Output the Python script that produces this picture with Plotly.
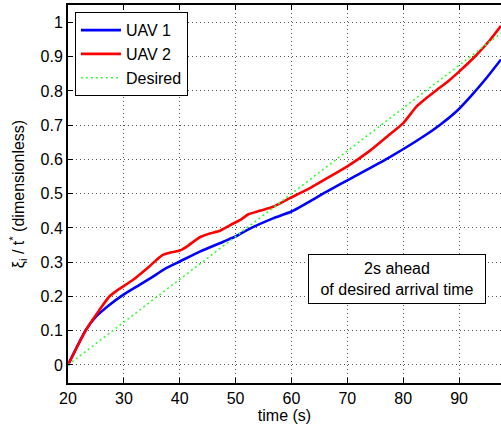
import plotly.graph_objects as go

# Normalised arrival progress of two UAVs against time
t_uav1 = [20, 23.2, 25, 27.4, 29.8, 32.8, 35, 37.5, 40, 43.6, 47.8, 50, 52.3, 56.7, 60,
          66.3, 71, 77.3, 83.6, 86.5, 89.5, 92, 94.9, 97.5]
v_uav1 = [0, 0.102, 0.141, 0.175, 0.204, 0.234, 0.256, 0.282, 0.302, 0.331, 0.36, 0.375,
          0.396, 0.428, 0.448, 0.506, 0.548, 0.604, 0.667, 0.7, 0.74, 0.783, 0.838, 0.892]

t_uav2 = [20, 23.2, 25.6, 27.4, 28.9, 31.6, 34.5, 36.9, 38.5, 40, 41.2, 43.6, 45.4, 47.2,
          49.6, 51, 52.3, 54.3, 56.7, 59.7, 62.7, 66.3, 70, 74, 77.5, 80, 82.4, 84.2, 86,
          88, 90.1, 93.1, 95.5, 97.5]
v_uav2 = [0, 0.102, 0.16, 0.2, 0.219, 0.248, 0.287, 0.321, 0.329, 0.334, 0.345, 0.373,
          0.384, 0.392, 0.413, 0.425, 0.44, 0.45, 0.462, 0.487, 0.511, 0.545, 0.58, 0.625,
          0.672, 0.706, 0.755, 0.78, 0.803, 0.828, 0.858, 0.905, 0.948, 0.99]

t_desired = [20, 100]
v_desired = [0, 1]

x_ticks = [20, 30, 40, 50, 60, 70, 80, 90]
y_ticks = [0, 0.1, 0.2, 0.3, 0.4, 0.5, 0.6, 0.7, 0.8, 0.9, 1]

FONT = "Liberation Sans, Arial, sans-serif"
FS = 16

fig = go.Figure()
fig.add_trace(go.Scatter(x=t_uav1, y=v_uav1, mode="lines", name="UAV 1",
                         line=dict(color="#0000ff", width=2.6, shape="spline", smoothing=0.6)))
fig.add_trace(go.Scatter(x=t_uav2, y=v_uav2, mode="lines", name="UAV 2",
                         line=dict(color="#ff0000", width=2.6, shape="spline", smoothing=0.6)))
fig.add_trace(go.Scatter(x=t_desired, y=v_desired, mode="lines", name="Desired",
                         line=dict(color="#33ff33", width=1.6, dash="2px,3px")))

fig.add_annotation(x=78.9, y=0.251, xref="x", yref="y",
                   text="2s ahead<br>of desired arrival time", showarrow=False,
                   font=dict(family=FONT, size=FS, color="black"),
                   bordercolor="black", borderwidth=1, borderpad=5, bgcolor="white",
                   width=166, align="center")

axis_common = dict(
    showgrid=True, gridcolor="#555555", gridwidth=1, griddash="1px,3px",
    zeroline=False, showline=True, linecolor="black", linewidth=2,
    ticks="inside", ticklen=5, tickcolor="black",
    tickfont=dict(family=FONT, size=FS, color="black"),
)

fig.update_xaxes(range=[20, 97.5], tickvals=x_ticks, mirror="ticks",
                 title=dict(text="time (s)", font=dict(family=FONT, size=FS, color="black"),
                            standoff=2),
                 **axis_common)
fig.update_yaxes(range=[-0.0526, 1.051], tickvals=y_ticks, mirror=False,
                 title=dict(text="ξ<sub>i</sub> / t<sup>*</sup> (dimensionless)",
                            font=dict(family=FONT, size=FS, color="black"), standoff=12),
                 **axis_common)

fig.update_layout(
    width=501, height=429,
    margin=dict(l=68, r=0, t=5, b=46),
    plot_bgcolor="white", paper_bgcolor="white",
    font=dict(family=FONT, size=FS, color="black"),
    legend=dict(x=0.016, y=0.981, xanchor="left", yanchor="top",
                bgcolor="white", bordercolor="black", borderwidth=1,
                font=dict(family=FONT, size=FS, color="black"),
                itemwidth=40, tracegroupgap=0),
)

fig.write_html("out.html")
